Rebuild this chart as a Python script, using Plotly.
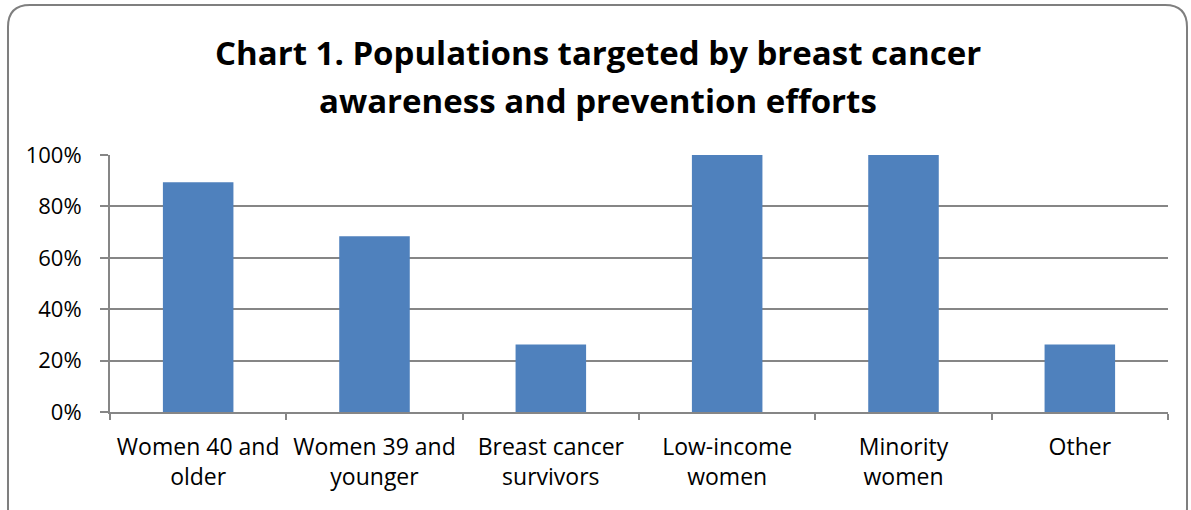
import plotly.graph_objects as go
import re

categories = ["Women 40 and<br>older", "Women 39 and<br>younger", "Breast cancer<br>survivors",
              "Low-income<br>women", "Minority<br>women", "Other"]
values = [0.894, 0.684, 0.263, 1.0, 1.0, 0.263]
tick_vals = [0, 0.2, 0.4, 0.6, 0.8, 1.0]
tick_text = ["0%", "20%", "40%", "60%", "80%", "100%"]
title_lines = ["Chart 1. Populations targeted by breast cancer",
               "awareness and prevention efforts"]

W, H = 1191, 510
L, R, T, B = 110, 23, 155, 98
PW, PH = W - L - R, H - T - B
FONT = "Open Sans, Liberation Sans, sans-serif"


def px_to_paper(px, py):
    return (px - L) / PW, 1 - (py - T) / PH


fig = go.Figure(go.Bar(x=categories, y=values, marker=dict(color="#4F81BD", line=dict(width=0)),
                       hoverinfo="skip"))

fig.update_layout(
    width=W, height=H,
    margin=dict(l=L, r=R, t=T, b=B),
    paper_bgcolor="white", plot_bgcolor="white",
    bargap=0.6,
    showlegend=False,
    font=dict(family=FONT, color="black"),
)
fig.update_xaxes(showline=True, linecolor="#868686", linewidth=2, ticks="outside", ticklen=6,
                 tickcolor="#868686", tickwidth=2, tickson="boundaries",
                 tickfont=dict(size=23), showgrid=False, ticklabelstandoff=13)
fig.update_yaxes(range=[0, 1], tickvals=tick_vals, ticktext=tick_text, showline=True,
                 linecolor="#868686", linewidth=2, ticks="outside", ticklen=8, tickcolor="#868686",
                 tickwidth=2, showgrid=True, gridcolor="#868686", gridwidth=1.5,
                 tickfont=dict(size=22), zeroline=False, ticklabelstandoff=14)

# title as two centered lines
for line, cy in zip(title_lines, [52, 100]):
    xp, yp = px_to_paper(598, cy)
    fig.add_annotation(text=f"<b>{line}</b>", x=xp, y=yp, xref="paper", yref="paper",
                       xanchor="center", yanchor="middle", showarrow=False,
                       font=dict(size=33, family=FONT, color="black"))

# rounded chart border
x0, y0, x1, y1, r = 8, 5, 1187, 530, 22
path = (f"M {x0+r},{y0} L {x1-r},{y0} Q {x1},{y0} {x1},{y0+r} L {x1},{y1-r} "
        f"Q {x1},{y1} {x1-r},{y1} L {x0+r},{y1} Q {x0},{y1} {x0},{y1-r} L {x0},{y0+r} "
        f"Q {x0},{y0} {x0+r},{y0} Z")
out = path
for a, b in re.findall(r"(-?\d+),(-?\d+)", path):
    xp, yp = px_to_paper(int(a), int(b))
    out = out.replace(f"{a},{b}", f"{xp:.5f},{yp:.5f}", 1)
fig.add_shape(type="path", path=out, xref="paper", yref="paper",
              line=dict(color="#7f7f7f", width=2), layer="below")

fig.write_html("out.html")
